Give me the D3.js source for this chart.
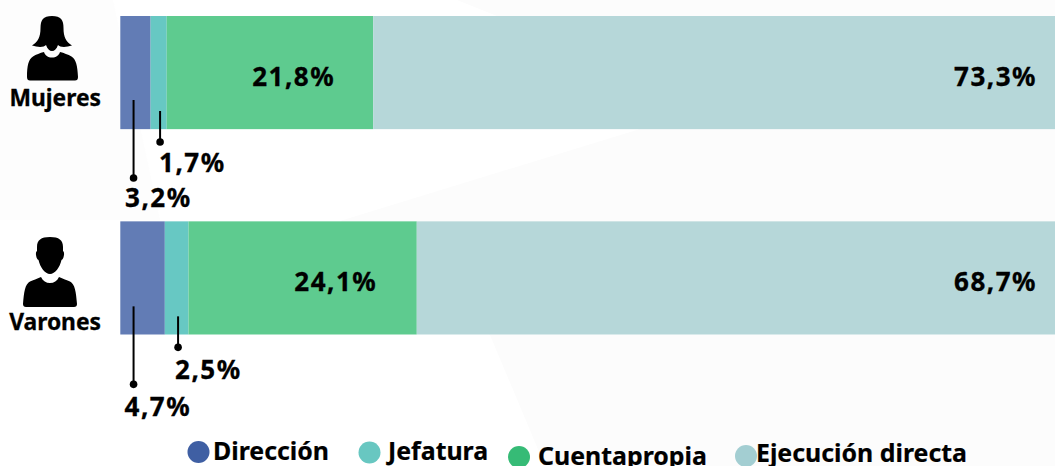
<!DOCTYPE html>
<html>
<head>
<meta charset="utf-8">
<script src="https://cdn.jsdelivr.net/npm/d3@7"></script>
<style>
html, body { margin: 0; padding: 0; background: #fff; overflow: hidden; }
svg { display: block; }
.label { font-family: "Noto Sans", sans-serif; font-weight: bold; fill: #000; stroke: #000; stroke-width: 0.3; }
.value { letter-spacing: 1.5px; }
.legend-text { font-family: "Noto Sans", sans-serif; font-weight: bold; fill: #000; stroke: #000; stroke-width: 0.2; }
</style>
</head>
<body>
<svg id="chart" width="1055" height="466"></svg>
<script>
"use strict"

var groups     = ["Mujeres", "Varones"];
var categories = ["Dirección", "Jefatura", "Cuentapropia", "Ejecución directa"];
var mujeres    = [3.2, 1.7, 21.8, 73.3];
var varones    = [4.7, 2.5, 24.1, 68.7];
var tickLabels = [["3,2%", "1,7%", "21,8%", "73,3%"], ["4,7%", "2,5%", "24,1%", "68,7%"]];
// where the little leader lines leave the bar, in % units
var leaderAt   = [[1.4, 4.2], [1.4, 6.1]];
// centre of the Cuentapropia label, in % units
var insideAt   = [18.3, 22.75];

var barColors    = ["#627cb5", "#67c8c3", "#5ecb8f", "#b6d7d9"];
var legendColors = ["#3f5fa3", "#68c7c1", "#36bb76", "#a3ced2"];

var womanIcon = "M52 16C43 16 40.5 20 40.5 28C40.5 37 38 42 32 45.5C38 47.5 44 47.5 46 45C47.5 49 49.5 51 52 51"
    + "C54.5 51 56.5 49 58 45C60 47.5 66 47.5 72 45.5C66 42 63.5 37 63.5 28C63.5 20 61 16 52 16Z"
    + "M27 77C27 66 28.5 59 33 56.5C36 54.5 40 53 44 52C45 55.5 48 57.5 52 57.5C56 57.5 59 55.5 60 52C64 53 68 54.5 71.5 56.5C76 59 77.5 66 78 77Q78 80.5 75 80.5L30 80.5Q27 80.5 27 77Z";
var manIcon = "M50 237C41 237 37 240 37 247L37 251C35 252 36 259 38.5 260C40 267 45 274 50 274"
    + "C55 274 60 267 61.5 260C64 259 65 252 63 251L63 247C63 240 59 237 50 237Z"
    + "M23 304C24 292 25 284 30 281.5C33 280 37 279 41 277C43 281 46 283 50 283C54 283 57 281 59 277C63 279 67 280 70 281.5C75 284 76 292 77 304Q77 307 74 307L26 307Q23 307 23 304Z";

var svg = d3.select("#chart");

// very faint background shapes of the original
svg.append("path").attr("d", "M457 0L1055 0L1055 129L497 16Z").attr("fill", "#fcfcfc");
svg.append("path").attr("d", "M340 221L640 129L1055 129L1055 466L545 466L490 335Z").attr("fill", "#fcfcfc");
svg.append("path").attr("d", "M0 0L113 0L160 220L0 220Z").attr("fill", "#fdfdfd");

var x = d3.scaleLinear().domain([0, 100]).range([120.3, 1067.5]);
var y = d3.scaleBand().domain(groups).range([16, 334.5]).paddingInner(92.5 / 206);

var rows = groups.map(function(g, i) {
    var values = i == 0 ? mujeres : varones;
    var start = 0;
    return values.map(function(v, j) {
        var seg = { group: g, row: i, cat: j, start: start, end: start + v, label: tickLabels[i][j] };
        start += v;
        return seg;
    });
});
var segs = d3.merge(rows);

svg.selectAll("rect.seg").data(segs).enter()
    .append("rect")
    .attr("class", "seg")
    .attr("x", d => x(d.start))
    .attr("y", d => y(d.group))
    .attr("width", d => x(d.end) - x(d.start))
    .attr("height", y.bandwidth())
    .attr("fill", d => barColors[d.cat]);

// big labels inside the bars
svg.selectAll("text.inside").data(segs.filter(d => d.cat >= 2)).enter()
    .append("text")
    .attr("class", "label value inside")
    .attr("font-size", 26)
    .attr("text-anchor", d => d.cat == 2 ? "middle" : "end")
    .attr("x", d => d.cat == 2 ? x(insideAt[d.row]) : 1037)
    .attr("y", d => y(d.group) + 70)
    .text(d => d.label);

// leader lines for the two narrow segments
var leaders = segs.filter(d => d.cat < 2);
var leaderTop = [[84, 95], [85, 95]];
var leaderEnd = [[162, 126], [163, 126]];
var labelDx   = [[-8.5, -1], [-9, -3]];
var labelDy   = [[29, 30], [32, 32]];

svg.selectAll("line.leader").data(leaders).enter()
    .append("line")
    .attr("class", "leader")
    .attr("x1", d => x(leaderAt[d.row][d.cat]))
    .attr("x2", d => x(leaderAt[d.row][d.cat]))
    .attr("y1", d => y(d.group) + leaderTop[d.row][d.cat])
    .attr("y2", d => y(d.group) + leaderEnd[d.row][d.cat])
    .attr("stroke", "#000")
    .attr("stroke-width", 2);

svg.selectAll("circle.leader").data(leaders).enter()
    .append("circle")
    .attr("class", "leader")
    .attr("cx", d => x(leaderAt[d.row][d.cat]))
    .attr("cy", d => y(d.group) + leaderEnd[d.row][d.cat])
    .attr("r", 3.8)
    .attr("fill", "#000");

svg.selectAll("text.outside").data(leaders).enter()
    .append("text")
    .attr("class", "label value outside")
    .attr("font-size", 26)
    .attr("x", d => x(leaderAt[d.row][d.cat]) + labelDx[d.row][d.cat])
    .attr("y", d => y(d.group) + leaderEnd[d.row][d.cat] + labelDy[d.row][d.cat])
    .text(d => d.label);

// group names and icons
var groupDy = [90, 109];
svg.selectAll("text.group").data(groups).enter()
    .append("text")
    .attr("class", "label group")
    .attr("font-size", 22.8)
    .attr("text-anchor", "end")
    .attr("x", 101)
    .attr("y", (d, i) => y(d) + groupDy[i])
    .text(d => d);

svg.append("path").attr("d", womanIcon).attr("fill", "#000");
svg.append("path").attr("d", manIcon).attr("fill", "#000");

// legend, the items are not quite on one line in the original
var legendX = [198.5, 369.5, 519, 746];
var legendY = [452, 452.5, 457, 456];
var legendTextX = [213, 388, 538, 756];
var legendTextY = [460, 460, 465, 462];

svg.selectAll("circle.legend-dot").data(categories).enter()
    .append("circle")
    .attr("class", "legend-dot")
    .attr("cx", (d, i) => legendX[i])
    .attr("cy", (d, i) => legendY[i])
    .attr("r", 11)
    .attr("fill", (d, i) => legendColors[i]);

svg.selectAll("text.legend-text").data(categories).enter()
    .append("text")
    .attr("class", "legend-text")
    .attr("font-size", 24.9)
    .attr("x", (d, i) => legendTextX[i])
    .attr("y", (d, i) => legendTextY[i])
    .text(d => d);
</script>
</body>
</html>
